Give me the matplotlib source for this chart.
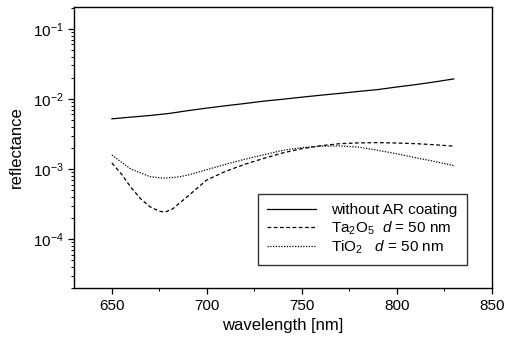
import matplotlib
matplotlib.use("Agg")
import matplotlib.pyplot as plt
from matplotlib.ticker import MultipleLocator, LogLocator

plt.rcParams['font.family'] = ['Liberation Sans', 'DejaVu Sans']
plt.rcParams['mathtext.fontset'] = 'custom'
plt.rcParams['mathtext.rm'] = 'Liberation Sans'
plt.rcParams['mathtext.it'] = 'Liberation Sans:italic'

# solid line: without AR coating
wl_bare = [650, 660, 670, 680, 690, 700, 710, 720, 730, 740, 750, 760, 770,
           780, 790, 800, 810, 820, 830]
r_bare = [5.2e-3, 5.5e-3, 5.8e-3, 6.2e-3, 6.8e-3, 7.4e-3, 8.0e-3, 8.6e-3,
          9.3e-3, 9.9e-3, 1.06e-2, 1.13e-2, 1.2e-2, 1.28e-2, 1.36e-2,
          1.48e-2, 1.6e-2, 1.75e-2, 1.93e-2]

# dashed line: Ta2O5, d = 50 nm
wl_ta = [650, 655, 660, 665, 670, 675, 678, 682, 690, 700, 710, 720, 730,
         740, 750, 760, 770, 780, 790, 800, 810, 820, 830]
r_ta = [1.22e-3, 8.5e-4, 5.5e-4, 3.8e-4, 2.9e-4, 2.5e-4, 2.43e-4, 2.7e-4,
        4.1e-4, 7.0e-4, 9.3e-4, 1.17e-3, 1.42e-3, 1.7e-3, 1.95e-3, 2.15e-3,
        2.3e-3, 2.36e-3, 2.38e-3, 2.35e-3, 2.3e-3, 2.22e-3, 2.12e-3]

# dotted line: TiO2, d = 50 nm
wl_ti = [650, 660, 670, 677, 685, 690, 700, 710, 720, 730, 740, 750, 760,
         770, 780, 790, 800, 810, 820, 830]
r_ti = [1.58e-3, 1.0e-3, 7.8e-4, 7.4e-4, 7.7e-4, 8.2e-4, 9.8e-4, 1.17e-3,
        1.38e-3, 1.6e-3, 1.85e-3, 2.02e-3, 2.12e-3, 2.14e-3, 2.05e-3,
        1.85e-3, 1.65e-3, 1.45e-3, 1.28e-3, 1.12e-3]

fig = plt.figure(figsize=(5.06, 3.48), dpi=100)
ax = fig.add_axes([0.146, 0.172, 0.826, 0.808])

ax.plot(wl_bare, r_bare, color='black', lw=0.9, ls='-',
        label='without AR coating')
ax.plot(wl_ta, r_ta, color='black', lw=0.9, ls=(0, (3, 2)),
        label=r'Ta$_2$O$_5$  $d$ = 50 nm')
ax.plot(wl_ti, r_ti, color='black', lw=0.9, ls=(0, (1, 1.2)),
        label=r'TiO$_2$   $d$ = 50 nm')

ax.set_yscale('log')
ax.set_xlim(630, 850)
ax.set_ylim(2e-5, 0.205)
ax.xaxis.set_major_locator(MultipleLocator(50))
ax.xaxis.set_minor_locator(MultipleLocator(25))
ax.yaxis.set_major_locator(LogLocator(base=10, numticks=10))
ax.yaxis.set_minor_locator(LogLocator(base=10, subs=range(2, 10), numticks=10))

ax.tick_params(which='major', direction='out', length=4, width=0.9,
               labelsize=11)
ax.tick_params(which='minor', direction='out', length=2, width=0.7)
for s in ax.spines.values():
    s.set_linewidth(1.0)

ax.set_xlabel('wavelength [nm]', fontsize=12)
ax.set_ylabel('reflectance', fontsize=12, labelpad=6)

leg = ax.legend(loc='lower right', bbox_to_anchor=(0.94, 0.082),
                borderaxespad=0, fontsize=11, frameon=True, fancybox=False,
                edgecolor='black', handlelength=3.2, handletextpad=1.0,
                borderpad=0.6, labelspacing=0.12)
leg.get_frame().set_linewidth(1.0)

fig.savefig('out.png', dpi=100)
